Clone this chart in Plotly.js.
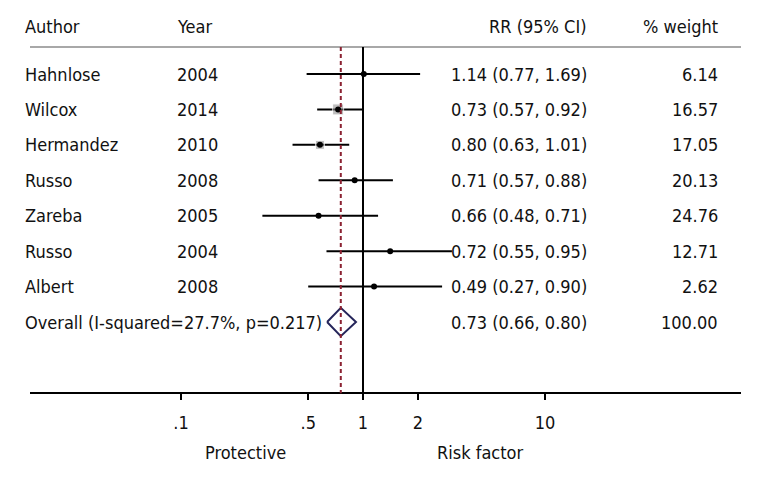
<!DOCTYPE html>
<html><head><meta charset="utf-8">
<script src="https://cdn.plot.ly/plotly-3.0.1.min.js"></script>
<style>html,body{margin:0;padding:0;background:#fff}#chart{width:768px;height:480px}</style>
</head><body><div id="chart"></div>
<script>
// ---- data ----
const authors = ["Hahnlose","Wilcox","Hermandez","Russo","Zareba","Russo","Albert"];
const years = ["2004","2014","2010","2008","2005","2004","2008"];
const rrText = ["1.14 (0.77, 1.69)","0.73 (0.57, 0.92)","0.80 (0.63, 1.01)","0.71 (0.57, 0.88)","0.66 (0.48, 0.71)","0.72 (0.55, 0.95)","0.49 (0.27, 0.90)"];
const weights = ["6.14","16.57","17.05","20.13","24.76","12.71","2.62"];
// plotted positions of the marks as drawn in the picture
const est = [1.01, 0.73, 0.58, 0.90, 0.57, 1.41, 1.15];
const lower = [0.49, 0.56, 0.41, 0.57, 0.28, 0.63, 0.50];
const upper = [2.06, 1.00, 0.84, 1.46, 1.21, 3.08, 2.72];
const boxShown = [false, true, true, false, false, false, false];
const overallLabel = "Overall (I-squared=27.7%, p=0.217)";
const overallText = "0.73 (0.66, 0.80)";
const overallWeight = "100.00";
const overallEst = 0.755, overallLo = 0.635, overallHi = 0.915;
const tickVals = [0.1, 0.5, 1, 2, 10];
const tickText = [".1", ".5", "1", "2", "10"];
const headers = {author: "Author", year: "Year", rr: "RR (95% CI)", weight: "% weight"};
const sideLabels = ["Protective", "Risk factor"];
const sideLabelAt = [0.225, 4.4];

// ---- font choice: a condensed face if one is installed ----
function hasFont(name) {
  const c = document.createElement("canvas").getContext("2d");
  const s = "HahnloseWilcox 0.66 (0.48, 0.71)";
  return ["monospace", "serif"].some(b => {
    c.font = "40px " + b; const w0 = c.measureText(s).width;
    c.font = "40px '" + name + "', " + b; return c.measureText(s).width !== w0;
  });
}
let FONT = "Roboto, 'Liberation Sans', sans-serif", FS = 18;
for (const f of ["Liberation Sans Narrow", "DejaVu Sans Condensed", "Roboto Condensed", "Arial Narrow", "Open Sans Condensed"]) {
  if (hasFont(f)) { FONT = "'" + f + "', sans-serif"; FS = f === "DejaVu Sans Condensed" ? 18 : 21; break; }
}

// ---- layout helpers ----
const W = 768, H = 480;
const overallRow = authors.length;
const headerRow = -1.33, ruleRow = -0.76, axisRow = 9.01, sideRow = 10.67;
const TXT = "#111";

const ciX = [], ciY = [];
est.forEach((e, i) => { ciX.push(lower[i], upper[i], null); ciY.push(i, i, null); });

const traces = [
  {x: ciX, y: ciY, mode: "lines", line: {color: "#000", width: 2}, hoverinfo: "skip", showlegend: false},
  {x: est.filter((e,i)=>boxShown[i]), y: est.map((e,i)=>i).filter(i=>boxShown[i]),
   mode: "markers", marker: {symbol: "square", size: [11, 9], color: "rgba(140,140,140,0.8)"}, showlegend: false, hoverinfo: "skip"},
  {x: est, y: est.map((e,i)=>i), mode: "markers", marker: {color: "#000", size: 6}, showlegend: false},
  {x: [overallLo, overallEst, overallHi, overallEst, overallLo],
   y: [overallRow, overallRow - 0.4, overallRow, overallRow + 0.4, overallRow],
   mode: "lines", line: {color: "#25255a", width: 2}, showlegend: false, hoverinfo: "skip"}
];

const ann = [];
const px = p => p / W;
function txt(text, xp, y, anchor) {
  ann.push({text, x: px(xp), xref: "paper", y, yref: "y", xanchor: anchor, yanchor: "middle",
            showarrow: false, font: {family: FONT, size: FS, color: TXT}});
}
txt(headers.author, 23, headerRow, "left");
txt(headers.year, 175, headerRow, "left");
txt(headers.rr, 589, headerRow, "right");
txt(headers.weight, 720, headerRow, "right");
authors.forEach((a, i) => {
  txt(a, 23, i, "left");
  txt(years[i], 175, i, "left");
  txt(rrText[i], 589, i, "right");
  txt(weights[i], 720, i, "right");
});
txt(overallLabel, 23, overallRow, "left");
txt(overallText, 589, overallRow, "right");
txt(overallWeight, 720, overallRow, "right");
sideLabels.forEach((s, k) => ann.push({text: s, x: Math.log10(sideLabelAt[k]), xref: "x", y: sideRow, yref: "y",
  showarrow: false, xanchor: "center", yanchor: "middle", font: {family: FONT, size: FS, color: TXT}}));

const x0 = 30, x1 = 741, oneAt = 363, perDecade = 182;
const layout = {
  width: W, height: H, margin: {l: 0, r: 0, t: 0, b: 0}, paper_bgcolor: "#fff", plot_bgcolor: "#fff",
  showlegend: false,
  xaxis: {type: "log", domain: [x0 / W, x1 / W],
          range: [(x0 - oneAt) / perDecade, (x1 - oneAt) / perDecade],
          anchor: "free", position: 1 - 393 / H,
          showline: true, linecolor: "#000", linewidth: 2, showgrid: false, zeroline: false,
          ticks: "outside", ticklen: 6, tickwidth: 2, tickcolor: "#000", ticklabelstandoff: 7,
          tickvals: tickVals, ticktext: tickText, tickfont: {family: FONT, size: FS, color: TXT}},
  yaxis: {range: [(H - 74) / 35.43, (0 - 74) / 35.43], visible: false, domain: [0, 1]},
  shapes: [
    {type: "line", xref: "paper", yref: "y", x0: px(30), x1: px(741), y0: ruleRow, y1: ruleRow, line: {color: "#a8a8a8", width: 2}},
    {type: "line", xref: "x", yref: "y", x0: 1, x1: 1, y0: ruleRow, y1: axisRow, line: {color: "#000", width: 2}},
    {type: "line", xref: "x", yref: "y", x0: overallEst, x1: overallEst, y0: ruleRow, y1: axisRow, line: {color: "#8b2232", width: 2, dash: "4px,3px"}}
  ],
  annotations: ann
};
Plotly.newPlot("chart", traces, layout, {staticPlot: true, displayModeBar: false});
</script></body></html>
